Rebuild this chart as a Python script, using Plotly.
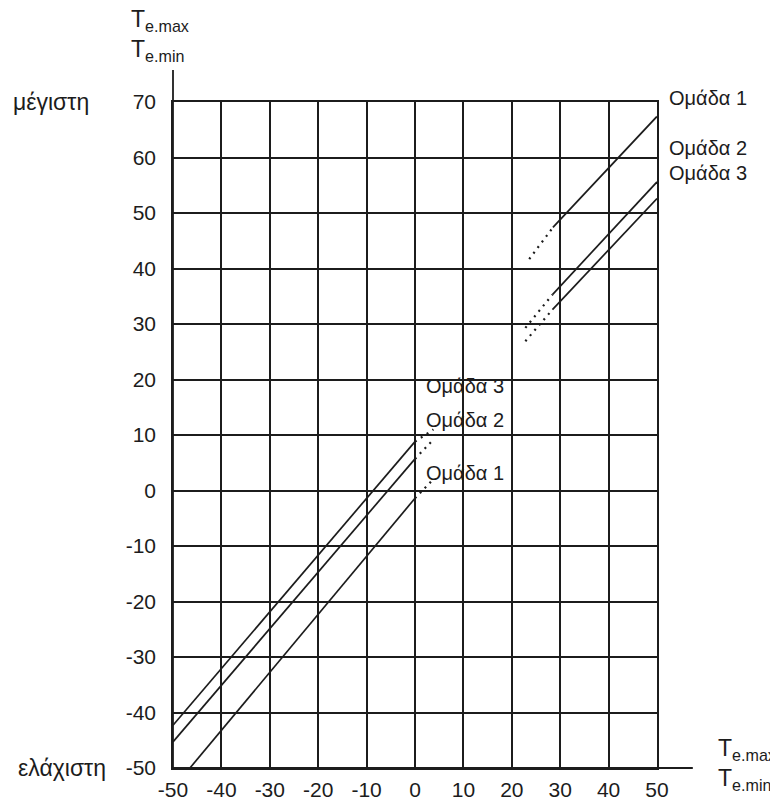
import plotly.graph_objects as go

# ---- data ----
x_ticks = [-50, -40, -30, -20, -10, 0, 10, 20, 30, 40, 50]
y_ticks = [-50, -40, -30, -20, -10, 0, 10, 20, 30, 40, 50, 60, 70]
group_names = ["Ομάδα 1", "Ομάδα 2", "Ομάδα 3"]

# minimum-temperature lines (lower-left), solid part and dotted extension
min_solid_x = {"Ομάδα 1": [-46.5, 0.0], "Ομάδα 2": [-50.0, 0.0], "Ομάδα 3": [-50.0, 0.0]}
min_solid_y = {"Ομάδα 1": [-50.0, -1.4], "Ομάδα 2": [-45.3, 5.7], "Ομάδα 3": [-42.3, 8.8]}
min_dot_x = {"Ομάδα 1": [0.0, 3.3], "Ομάδα 2": [0.0, 3.6], "Ομάδα 3": [0.0, 3.8]}
min_dot_y = {"Ομάδα 1": [-1.4, 1.6], "Ομάδα 2": [5.7, 9.0], "Ομάδα 3": [8.8, 11.0]}

# maximum-temperature lines (upper-right), dotted start and solid part
max_dot_x = {"Ομάδα 1": [23.6, 28.5], "Ομάδα 2": [22.8, 28.4], "Ομάδα 3": [22.8, 28.4]}
max_dot_y = {"Ομάδα 1": [41.7, 47.4], "Ομάδα 2": [29.3, 35.3], "Ομάδα 3": [26.9, 32.6]}
max_solid_x = {"Ομάδα 1": [28.5, 50.0], "Ομάδα 2": [28.4, 50.0], "Ομάδα 3": [28.4, 50.0]}
max_solid_y = {"Ομάδα 1": [47.4, 67.4], "Ομάδα 2": [35.3, 55.6], "Ομάδα 3": [32.6, 52.6]}

# label positions
right_label_y = {"Ομάδα 1": 1.006, "Ομάδα 2": 0.931, "Ομάδα 3": 0.893}   # paper units
mid_label_y = {"Ομάδα 1": 3.1, "Ομάδα 2": 12.7, "Ομάδα 3": 18.8}         # data units

INK = "#1c1c1c"
FONT = "Liberation Sans, Arial, sans-serif"

fig = go.Figure()
for g in group_names:
    fig.add_trace(go.Scatter(x=min_solid_x[g], y=min_solid_y[g], mode="lines",
                             line=dict(color=INK, width=1.7), showlegend=False, hoverinfo="skip"))
    fig.add_trace(go.Scatter(x=min_dot_x[g], y=min_dot_y[g], mode="lines",
                             line=dict(color=INK, width=2.2, dash="2px,5px"), showlegend=False, hoverinfo="skip"))
    fig.add_trace(go.Scatter(x=max_dot_x[g], y=max_dot_y[g], mode="lines",
                             line=dict(color=INK, width=2.2, dash="2px,5px"), showlegend=False, hoverinfo="skip"))
    fig.add_trace(go.Scatter(x=max_solid_x[g], y=max_solid_y[g], mode="lines",
                             line=dict(color=INK, width=1.7), showlegend=False, hoverinfo="skip"))

annotations = []
for g in group_names:
    annotations.append(dict(x=1.021, y=right_label_y[g], xref="paper", yref="paper", text=g, showarrow=False,
                            xanchor="left", yanchor="middle", font=dict(size=20, color=INK, family=FONT)))
    annotations.append(dict(x=1.9, y=mid_label_y[g], xref="x", yref="y", text=g, showarrow=False,
                            xanchor="left", yanchor="middle", font=dict(size=20, color=INK, family=FONT)))

annotations += [
    dict(x=-0.335, y=1.0, xref="paper", yref="paper", text="μέγιστη", showarrow=False,
         xanchor="left", yanchor="middle", font=dict(size=23, color=INK, family=FONT)),
    dict(x=-0.325, y=0.0, xref="paper", yref="paper", text="ελάχιστη", showarrow=False,
         xanchor="left", yanchor="middle", font=dict(size=23, color=INK, family=FONT)),
    dict(x=-0.090, y=1.147, xref="paper", yref="paper", text="T<sub>e.max</sub>", showarrow=False,
         xanchor="left", yanchor="top", font=dict(size=23, color=INK, family=FONT)),
    dict(x=-0.090, y=1.102, xref="paper", yref="paper", text="T<sub>e.min</sub>", showarrow=False,
         xanchor="left", yanchor="top", font=dict(size=23, color=INK, family=FONT)),
    dict(x=1.122, y=0.052, xref="paper", yref="paper", text="T<sub>e.max</sub>", showarrow=False,
         xanchor="left", yanchor="top", font=dict(size=23, color=INK, family=FONT)),
    dict(x=1.122, y=0.007, xref="paper", yref="paper", text="T<sub>e.min</sub>", showarrow=False,
         xanchor="left", yanchor="top", font=dict(size=23, color=INK, family=FONT)),
]

shapes = [
    # extended axis lines (beyond the grid)
    dict(type="line", xref="paper", yref="paper", x0=0, x1=1.074, y0=0, y1=0,
         line=dict(color=INK, width=1.8)),
    dict(type="line", xref="paper", yref="paper", x0=0, x1=0, y0=0, y1=1.048,
         line=dict(color=INK, width=1.8)),
]

# the page body has an 8px default margin, so the figure is 8px smaller
fig.update_layout(
    width=770, height=797,
    margin=dict(l=165, r=121, t=94, b=37, autoexpand=False),
    paper_bgcolor="white", plot_bgcolor="white",
    annotations=annotations, shapes=shapes,
    font=dict(family=FONT, color=INK),
)
fig.update_xaxes(range=[-50, 50], tickvals=x_ticks, ticktext=[str(v) for v in x_ticks],
                 showgrid=True, gridcolor=INK, gridwidth=1.6, zeroline=False,
                 showline=True, linecolor=INK, linewidth=1.6, mirror=True, automargin=False,
                 ticks="", tickfont=dict(size=21, color=INK, family=FONT), ticklabelstandoff=2)
fig.update_yaxes(range=[-50, 70], tickvals=y_ticks, ticktext=[str(v) for v in y_ticks],
                 showgrid=True, gridcolor=INK, gridwidth=1.6, zeroline=False,
                 showline=True, linecolor=INK, linewidth=1.6, mirror=True, automargin=False,
                 ticks="", tickfont=dict(size=21, color=INK, family=FONT), ticklabelstandoff=11)

fig.write_html("out.html")
